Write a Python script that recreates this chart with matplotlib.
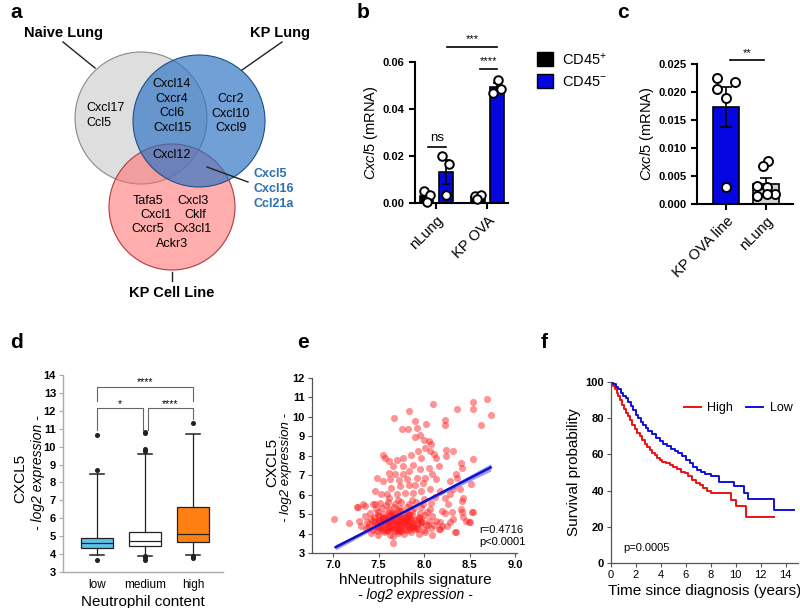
import matplotlib
matplotlib.use('Agg')
import matplotlib.pyplot as plt
from matplotlib.patches import Circle, Patch
import numpy as np

plt.rcParams['font.family'] = ['Liberation Sans', 'DejaVu Sans']
plt.rcParams['mathtext.fontset'] = 'custom'
plt.rcParams['mathtext.rm'] = 'Liberation Sans'
plt.rcParams['mathtext.it'] = 'Liberation Sans:italic'
plt.rcParams['mathtext.bf'] = 'Liberation Sans:bold'

# ---------------- data ----------------
# panel a (Venn)
venn_sets = ['Naive Lung', 'KP Lung', 'KP Cell Line']
naive_only = ['Cxcl17', 'Ccl5']
naive_kp = ['Cxcl14', 'Cxcr4', 'Ccl6', 'Cxcl15']
kp_only = ['Ccr2', 'Cxcl10', 'Cxcl9']
all_three = ['Cxcl12']
kp_cellline = ['Cxcl5', 'Cxcl16', 'Ccl21a']
cellline_only = ['Tafa5', 'Cxcl3', 'Cxcl1', 'Cklf', 'Cxcr5', 'Cx3cl1', 'Ackr3']

# panel b
groups_b = ['nLung', 'KP OVA']
b_cd45pos = [[0.0052, 0.0035, 0.0006], [0.0028, 0.0032, 0.0018]]
b_cd45neg = [[0.0200, 0.0165, 0.0032], [0.0525, 0.0483, 0.0469]]

# panel c
groups_c = ['KP OVA line', 'nLung']
c_kp = [0.0225, 0.0218, 0.0205, 0.0189, 0.0031]
c_nlung = [0.0077, 0.0068, 0.0032, 0.0030, 0.0014, 0.0018, 0.0017]

# panel d (box stats)
d_labels = ['low', 'medium', 'high']
d_med = [4.62, 4.75, 5.14]
d_q1 = [4.35, 4.47, 4.68]
d_q3 = [4.89, 5.24, 6.63]
d_whislo = [3.93, 3.90, 3.97]
d_whishi = [8.45, 9.57, 10.70]
d_fliers = [[10.64, 8.68, 3.66],
             [10.78, 10.83, 9.88, 9.74, 3.87, 3.84, 3.68, 3.86],
             [11.34, 3.79, 3.88]]

# panel e (scatter)
sig_sparse = [7.01, 7.18, 7.27, 7.35, 7.44, 7.48, 7.67, 7.84, 8.10, 8.36, 8.54, 8.54, 8.69, 8.74,
              8.62, 7.90, 7.76, 7.82, 7.92, 8.02, 8.23, 8.23, 7.90, 7.95, 8.00, 8.05, 8.08, 8.01,
              8.06, 8.11, 8.24, 8.13, 8.24, 8.41, 8.32, 7.55, 7.57, 7.62, 7.70, 7.77, 7.86, 7.93,
              7.97, 7.88, 7.77, 7.66, 7.61, 7.68, 7.77, 7.84, 7.95, 8.05, 8.16, 8.09, 8.01, 7.92,
              7.81, 7.72, 7.63, 7.55, 7.64, 7.74, 7.83, 7.90, 7.99, 8.13, 8.28, 8.35, 8.42, 7.46,
              7.53, 7.59, 7.70, 7.79, 7.88, 7.97, 8.06, 8.17, 8.28, 8.39, 7.33, 7.46, 7.26, 8.42,
              8.53, 8.46, 8.35, 8.28, 8.17, 8.20, 8.31, 8.42, 8.50, 8.26, 8.23, 8.32, 8.41, 8.43,
              8.49, 8.54, 8.34, 8.25, 8.16, 8.23, 8.43, 8.51, 8.54, 8.32, 8.36, 7.66, 7.66]
cx_sparse = [4.77, 4.54, 5.37, 5.42, 5.51, 6.84, 9.94, 10.28, 10.65, 10.38, 10.38, 10.79, 10.93, 10.08,
             9.56, 9.80, 9.39, 9.39, 9.42, 9.63, 9.85, 9.56, 8.95, 9.05, 8.83, 8.75, 8.58, 8.41,
             8.24, 8.11, 8.32, 7.90, 7.99, 7.64, 8.27, 8.06, 7.89, 7.72, 7.80, 7.89, 8.06, 8.24,
             7.89, 7.55, 7.47, 7.47, 7.13, 7.04, 7.04, 7.21, 7.30, 7.38, 7.47, 7.04, 6.87, 6.87,
             6.78, 6.74, 6.78, 6.69, 6.35, 6.44, 6.52, 6.52, 6.61, 6.78, 6.69, 7.04, 7.38, 6.18,
             6.01, 6.01, 6.01, 6.10, 6.10, 6.18, 6.27, 6.18, 6.01, 6.27, 5.51, 5.51, 5.34, 5.68,
             5.09, 4.66, 4.07, 4.58, 4.58, 5.17, 5.09, 5.09, 4.58, 5.51, 5.08, 4.74, 5.25, 4.83,
             4.57, 5.12, 4.06, 4.40, 4.23, 5.85, 5.85, 6.53, 7.81, 6.28, 6.87, 3.50, 3.86]
sig_cluster = [7.42, 7.49, 7.56, 7.63, 7.71, 7.78, 7.86, 7.94, 8.01, 8.09, 7.59, 7.75,
               7.36, 7.44, 7.50, 7.57, 7.62, 7.68, 7.74, 7.80, 7.86, 7.93, 8.00, 8.08, 8.17, 7.53, 7.71, 7.89,
               7.31, 7.39, 7.46, 7.52, 7.58, 7.64, 7.70, 7.76, 7.82, 7.88, 7.95, 8.02, 8.11, 7.61, 7.79, 7.97, 8.20,
               7.29, 7.37, 7.44, 7.49, 7.55, 7.61, 7.67, 7.73, 7.79, 7.85, 7.91, 7.98, 8.05, 8.13, 7.42, 7.58, 7.76, 7.94,
               7.35, 7.45, 7.51, 7.57, 7.63, 7.69, 7.75, 7.81, 7.87, 7.94, 8.01, 8.09, 7.66, 7.84,
               7.41, 7.49, 7.56, 7.62, 7.68, 7.74, 7.80, 7.87, 7.95, 8.03, 7.71,
               7.47, 7.54, 7.61, 7.67, 7.74, 7.81, 7.89, 7.97, 8.06, 7.58,
               7.52, 7.60, 7.68, 7.75, 7.83, 7.91, 7.99, 8.08, 7.71, 7.87, 8.00, 7.62, 8.12,
               7.53, 7.59, 7.65, 7.72, 7.78, 7.84, 7.55, 7.66, 7.73, 7.81, 7.68, 7.62, 7.50, 7.88, 7.92,
               7.47, 7.70, 7.60, 7.75, 7.83]
cx_cluster = [4.02, 3.95, 4.08, 3.92, 4.05, 3.97, 4.10, 3.99, 4.06, 3.94, 4.12, 4.14,
              4.22, 4.17, 4.26, 4.19, 4.29, 4.15, 4.24, 4.18, 4.27, 4.21, 4.16, 4.28, 4.23, 4.31, 4.33, 4.34,
              4.41, 4.36, 4.45, 4.38, 4.47, 4.40, 4.49, 4.37, 4.44, 4.39, 4.48, 4.42, 4.46, 4.55, 4.56, 4.57, 4.38,
              4.62, 4.58, 4.66, 4.60, 4.69, 4.63, 4.71, 4.61, 4.68, 4.64, 4.72, 4.59, 4.67, 4.62, 4.75, 4.77, 4.79, 4.80,
              4.88, 4.84, 4.92, 4.86, 4.94, 4.83, 4.91, 4.87, 4.95, 4.85, 4.93, 4.88, 5.00, 5.02,
              5.06, 5.10, 5.03, 5.12, 5.05, 5.14, 5.07, 5.15, 5.06, 5.11, 5.20,
              5.28, 5.33, 5.26, 5.36, 5.29, 5.38, 5.30, 5.35, 5.27, 5.45,
              5.55, 5.62, 5.52, 5.60, 5.54, 5.64, 5.50, 5.58, 5.72, 5.75, 5.80, 5.85, 5.90,
              4.52, 4.35, 4.56, 4.42, 4.53, 4.33, 4.81, 4.28, 4.84, 4.73, 4.62, 4.75, 4.70, 4.55, 4.30,
              4.33, 4.20, 4.60, 4.70, 4.95]
sig_core = [7.48, 7.54, 7.60, 7.66, 7.72, 7.78, 7.84, 7.90, 7.51, 7.57, 7.63, 7.69, 7.75, 7.81,
            7.87, 7.93, 7.46, 7.52, 7.58, 7.64, 7.70, 7.76, 7.82, 7.88, 7.55, 7.61, 7.67, 7.73,
            7.79, 7.85, 7.49, 7.65, 7.81, 7.97, 7.40, 8.04]
cx_core = [4.12, 4.20, 4.16, 4.24, 4.13, 4.21, 4.17, 4.25, 4.40, 4.47, 4.36, 4.43, 4.50, 4.46,
           4.41, 4.52, 4.58, 4.64, 4.55, 4.68, 4.57, 4.65, 4.60, 4.70, 4.82, 4.88, 4.79, 4.90,
           4.84, 4.78, 4.96, 5.05, 5.00, 4.74, 4.50, 4.45]
fit_x = [7.03, 8.73]
fit_y = [3.30, 7.40]
ci_x = [7.03, 7.50, 7.75, 8.00, 8.73]
ci_lo = [3.16, 4.36, 5.00, 5.57, 7.21]
ci_hi = [3.44, 4.50, 5.08, 5.71, 7.59]

# panel f (Kaplan-Meier)
high_t = [0, 0.15, 0.3, 0.45, 0.6, 0.75, 0.9, 1.05, 1.2, 1.35, 1.5, 1.7, 1.9, 2.1, 2.3, 2.5, 2.7,
          2.9, 3.1, 3.3, 3.5, 3.7, 3.9, 4.1, 4.4, 4.7, 5.0, 5.3, 5.6, 5.9, 6.2, 6.5, 6.8, 7.1,
          7.4, 7.7, 8.0, 9.6, 10.0, 10.8, 13.1]
high_s = [100, 98, 96, 94, 92, 90, 87.5, 85, 83, 81, 79, 76, 74, 72, 70, 68, 66, 64, 62.5, 61,
          59.5, 58, 57, 56, 55, 54, 53, 52, 50.5, 49.5, 48, 46, 44, 43, 41.5, 40, 38.7, 35, 31.7,
          25.2, 25.2]
low_t = [0, 0.2, 0.4, 0.6, 0.8, 1.0, 1.2, 1.4, 1.6, 1.8, 2.0, 2.2, 2.4, 2.6, 2.8, 3.0, 3.3, 3.6,
         3.9, 4.2, 4.5, 4.8, 5.1, 5.4, 5.7, 6.0, 6.3, 6.6, 6.9, 7.2, 7.5, 8.0, 8.7, 9.9, 10.7,
         11.0, 13.1, 14.7]
low_s = [100, 99, 97.5, 96, 94, 92.5, 91, 89, 87, 84.5, 82, 80, 78, 76.5, 74.5, 73, 71, 69, 67.5,
         66, 64.5, 63, 62, 60.5, 59, 57, 55, 53, 51.5, 50.5, 49, 47.9, 44.8, 42.4, 38.7, 35.4,
         29.3, 29.3]

# ---------------- figure ----------------
W, H = 800, 608
fig = plt.figure(figsize=(8, 6.08), dpi=100)


def axpx(l, t, r, b):
    return fig.add_axes([l / W, 1 - b / H, (r - l) / W, (b - t) / H])


def ftext(x, y, s, **kw):
    fig.text(x / W, 1 - y / H, s, **kw)


BLUE = '#0505e0'

# panel letters
for lx, ly, lt in [(10, 13, 'a'), (357, 13, 'b'), (617, 13, 'c'),
                   (10, 343, 'd'), (297, 343, 'e'), (541, 343, 'f')]:
    ftext(lx, ly, lt, fontsize=15, fontweight='bold', ha='left', va='center')

# ---- panel a: Venn ----
ax = axpx(0, 0, 300, 300)
ax.set_xlim(0, 300)
ax.set_ylim(300, 0)
ax.axis('off')
ax.add_patch(Circle((141, 118), 66, fc='#c4c4c4', ec='none', alpha=0.55))
ax.add_patch(Circle((141, 118), 66, fc='none', ec='#8a8a8a', lw=0.8))
ax.add_patch(Circle((172, 207), 63, fc='#ff6a6a', ec='none', alpha=0.55))
ax.add_patch(Circle((172, 207), 63, fc='none', ec='#b03a3a', lw=0.8))
ax.add_patch(Circle((199, 121), 66, fc='#2e74c4', ec='none', alpha=0.68))
ax.add_patch(Circle((199, 121), 66, fc='none', ec='#1f4f8a', lw=0.8))
ax.plot([63, 95], [42, 68], color='#222222', lw=1)
ax.plot([282, 242], [42, 70], color='#222222', lw=1)
ax.plot([172, 172], [272, 281], color='#222222', lw=1)
ax.plot([207, 248], [167, 182], color='#222222', lw=1)
ax.text(63, 33, venn_sets[0], fontsize=10.5, fontweight='bold', ha='center', va='center')
ax.text(250, 33, venn_sets[1], fontsize=10.5, fontweight='bold', ha='left', va='center')
ax.text(172, 293, venn_sets[2], fontsize=10.5, fontweight='bold', ha='center', va='center')
gfs = 9
for g, yy in zip(naive_only, [108, 123]):
    ax.text(86, yy, g, fontsize=gfs, ha='left', va='center')
for g, yy in zip(naive_kp, [84, 99, 113, 128]):
    ax.text(172, yy, g, fontsize=gfs, ha='center', va='center')
for g, yy in zip(kp_only, [99, 114, 128]):
    ax.text(231, yy, g, fontsize=gfs, ha='center', va='center')
ax.text(172, 155, all_three[0], fontsize=gfs, ha='center', va='center')
for g, yy in zip(kp_cellline, [174, 189, 204]):
    ax.text(253, yy, g, fontsize=gfs, ha='left', va='center', color='#2a6fb5', fontweight='bold')
cl_pos = [(148, 201), (193, 201), (156, 215), (195, 215), (148, 229), (192, 229), (172, 244)]
for g, (xx, yy) in zip(cellline_only, cl_pos):
    ax.text(xx, yy, g, fontsize=gfs, ha='center', va='center')


def style_bar_axes(a):
    for s in ['top', 'right']:
        a.spines[s].set_visible(False)
    for s in ['left', 'bottom']:
        a.spines[s].set_linewidth(1.5)
    a.tick_params(width=1.5, length=4, labelsize=8)
    for lab in a.get_yticklabels():
        lab.set_fontweight('bold')


# ---- panel b ----
axb = axpx(415, 62, 508, 203)
off, bw = 0.185, 0.27
jit_pos = [[-0.05, 0.06, 0.01], [-0.05, 0.05, -0.02]]
jit_neg = [[-0.06, 0.07, 0.0], [0.02, 0.07, -0.08]]
for i in range(len(groups_b)):
    for vals, dx, col, jit in [(b_cd45pos[i], -off, 'black', jit_pos[i]),
                               (b_cd45neg[i], off, BLUE, jit_neg[i])]:
        v = np.array(vals)
        m = v.mean()
        se = v.std(ddof=1) / np.sqrt(len(v))
        axb.bar(i + dx, m, width=bw, color=col, edgecolor='black', lw=1.2, zorder=2)
        axb.errorbar(i + dx, m, yerr=se, color='black', capsize=3, lw=1.2, capthick=1.2, zorder=3)
        axb.scatter(i + dx + np.array(jit), v, s=38, facecolor='white', edgecolor='black',
                    lw=1.4, zorder=4, clip_on=False)
axb.set_xlim(-0.41, 1.40)
axb.set_ylim(0, 0.06)
axb.set_yticks([0, 0.02, 0.04, 0.06])
axb.set_yticklabels(['0.00', '0.02', '0.04', '0.06'])
axb.set_xticks([0, 1])
axb.set_xticklabels(groups_b, rotation=45, ha='right', rotation_mode='anchor', fontsize=10.5)
style_bar_axes(axb)
axb.tick_params(axis='x', labelsize=10.5)
axb.set_ylabel(r'$\mathit{Cxcl5}$ (mRNA)', fontsize=10.5, labelpad=2)
# significance
for x0, x1, yy, txt, ty in [(0.21, 1.19, 0.0664, '***', 0.0676),
                            (0.85, 1.19, 0.0569, '****', 0.0581),
                            (-0.16, 0.19, 0.0240, 'ns', 0.0252)]:
    axb.plot([x0, x1], [yy, yy], color='black', lw=1.2, clip_on=False)
    axb.text((x0 + x1) / 2, ty, txt, ha='center', va='bottom', fontsize=8 if txt != 'ns' else 9.5)
axb.legend(handles=[Patch(fc='black', ec='black'), Patch(fc=BLUE, ec='black')],
           labels=['CD45$^{+}$', 'CD45$^{-}$'], loc='upper left',
           bbox_to_anchor=(524 / W, 1 - 38 / H), bbox_transform=fig.transFigure,
           frameon=False, handlelength=1.1, handleheight=1.1, fontsize=10.5,
           labelspacing=0.5, handletextpad=0.6)

# ---- panel c ----
axc = axpx(697, 64, 793, 204)
cw = 0.67
jit_c = [[-0.22, 0.22, -0.22, 0.0, 0.0], [0.06, -0.07, -0.23, 0.02, -0.23, 0.22, 0.02]]
for i, (vals, col) in enumerate([(c_kp, BLUE), (c_nlung, '#d3d3d3')]):
    v = np.array(vals)
    m = v.mean()
    se = v.std(ddof=1) / np.sqrt(len(v))
    axc.bar(i, m, width=cw, color=col, edgecolor='black', lw=1.2, zorder=2)
    axc.errorbar(i, m, yerr=se, color='black', capsize=4, lw=1.2, capthick=1.2, zorder=3)
    axc.scatter(i + np.array(jit_c[i]), v, s=42, facecolor='white', edgecolor='black',
                lw=1.4, zorder=4, clip_on=False)
axc.set_xlim(-0.725, 1.675)
axc.set_ylim(0, 0.025)
axc.set_yticks([0, 0.005, 0.010, 0.015, 0.020, 0.025])
axc.set_yticklabels(['0.000', '0.005', '0.010', '0.015', '0.020', '0.025'])
axc.set_xticks([0, 1])
axc.set_xticklabels(groups_c, rotation=45, ha='right', rotation_mode='anchor', fontsize=10.5)
style_bar_axes(axc)
axc.tick_params(axis='x', labelsize=10.5)
axc.set_ylabel(r'$\mathit{Cxcl5}$ (mRNA)', fontsize=10.5, labelpad=2)
axc.plot([0.1, 0.95], [0.0258, 0.0258], color='black', lw=1.2, clip_on=False)
axc.text(0.52, 0.0261, '**', ha='center', va='bottom', fontsize=8)

# ---- panel d ----
axd = axpx(63, 375, 223, 572)
stats = []
for i in range(3):
    stats.append(dict(med=d_med[i], q1=d_q1[i], q3=d_q3[i], whislo=d_whislo[i],
                      whishi=d_whishi[i], fliers=d_fliers[i], label=d_labels[i]))
bp = axd.bxp(stats, positions=[1, 2, 3], widths=0.67, patch_artist=True, capwidths=0.28,
             boxprops=dict(edgecolor='#222222', lw=0.9),
             medianprops=dict(color='#222222', lw=0.9),
             whiskerprops=dict(color='#222222', lw=0.9),
             capprops=dict(color='#222222', lw=1.1),
             flierprops=dict(marker='o', markersize=2.6, markerfacecolor='#222222',
                             markeredgecolor='#222222'))
for patch, col in zip(bp['boxes'], ['#5cc3ee', 'white', '#ff8010']):
    patch.set_facecolor(col)
axd.set_xlim(0.29, 3.63)
axd.set_ylim(3, 14)
axd.set_yticks(range(3, 15))
for s in ['top', 'right']:
    axd.spines[s].set_visible(False)
for s in ['left', 'bottom']:
    axd.spines[s].set_color('#aaaaaa')
    axd.spines[s].set_linewidth(1)
axd.tick_params(axis='y', labelsize=8, length=3, color='#aaaaaa', pad=2)
axd.tick_params(axis='x', labelsize=8.5, length=0, pad=5)
for lab in axd.get_yticklabels():
    lab.set_fontweight('bold')
axd.set_xlabel('Neutrophil content', fontsize=11, labelpad=3)
brk = '#666666'
axd.plot([1, 1, 1.95, 1.95], [10.95, 12.15, 12.15, 10.95], color=brk, lw=0.8)
axd.plot([2.07, 2.07, 3, 3], [10.95, 12.15, 12.15, 11.55], color=brk, lw=0.8)
axd.plot([1, 1, 3, 3], [12.55, 13.35, 13.35, 12.55], color=brk, lw=0.8)
axd.text(1.47, 12.12, '*', ha='center', va='bottom', fontsize=7.5)
axd.text(2.53, 12.12, '****', ha='center', va='bottom', fontsize=7.5)
axd.text(2.0, 13.32, '****', ha='center', va='bottom', fontsize=7.5)
ftext(20, 478, 'CXCL5', rotation=90, ha='center', va='center', fontsize=11)
ftext(38, 473, '- log2 expression -', rotation=90, ha='center', va='center', fontsize=10,
      style='italic')

# ---- panel e ----
axe = axpx(312, 378, 517, 553)
for xs, ys in [(sig_cluster, cx_cluster), (sig_core, cx_core), (sig_sparse, cx_sparse)]:
    axe.scatter(xs, ys, s=26, color='#ff1a1a', alpha=0.47, lw=0, zorder=2)
axe.fill_between(ci_x, ci_lo, ci_hi, color='#5a5aff', alpha=0.6, lw=0, zorder=3)
axe.plot(fit_x, fit_y, color='#1010c8', lw=1.8, zorder=4)
axe.set_xlim(6.77, 9.02)
axe.set_ylim(3, 12)
axe.set_xticks([7.0, 7.5, 8.0, 8.5, 9.0])
axe.set_xticklabels(['7.0', '7.5', '8.0', '8.5', '9.0'])
axe.set_yticks(range(3, 13))
for s in ['top', 'right']:
    axe.spines[s].set_visible(False)
for s in ['left', 'bottom']:
    axe.spines[s].set_color('#555555')
    axe.spines[s].set_linewidth(0.9)
axe.tick_params(labelsize=8, length=3, color='#555555', pad=2)
for lab in axe.get_yticklabels() + axe.get_xticklabels():
    lab.set_fontweight('bold')
axe.text(8.61, 4.18, 'r=0.4716', fontsize=8, ha='left', va='center')
axe.text(8.61, 3.58, 'p<0.0001', fontsize=8, ha='left', va='center')
ftext(415, 580, 'hNeutrophils signature', ha='center', va='center', fontsize=11)
ftext(415, 595, '- log2 expression -', ha='center', va='center', fontsize=10, style='italic')
ftext(272, 462, 'CXCL5', rotation=90, ha='center', va='center', fontsize=11)
ftext(286, 468, '- log2 expression -', rotation=90, ha='center', va='center', fontsize=9.5,
      style='italic')

# ---- panel f ----
axf = axpx(611, 382, 798, 563)
axf.step(high_t, high_s, where='post', color='#ee1111', lw=1.4, label='High')
axf.step(low_t, low_s, where='post', color='#1010dd', lw=1.4, label='Low')
axf.set_xlim(0, 15)
axf.set_ylim(0, 100)
axf.set_xticks(range(0, 15, 2))
axf.set_yticks(range(0, 101, 20))
for s in ['top', 'right']:
    axf.spines[s].set_visible(False)
for s in ['left', 'bottom']:
    axf.spines[s].set_color('#555555')
    axf.spines[s].set_linewidth(0.9)
axf.tick_params(labelsize=8, length=3, color='#555555', pad=2)
for lab in axf.get_yticklabels():
    lab.set_fontweight('bold')
axf.set_ylabel('Survival probability', fontsize=11, labelpad=3)
axf.set_xlabel('Time since diagnosis (years)', fontsize=11, labelpad=3)
axf.text(0.95, 8.3, 'p=0.0005', fontsize=8, ha='left', va='center')
axf.legend(loc='upper right', bbox_to_anchor=(1.03, 0.95), ncol=2, frameon=False, fontsize=9,
           handlelength=1.4, columnspacing=1.0, handletextpad=0.5)

fig.savefig('out.png', dpi=100)
